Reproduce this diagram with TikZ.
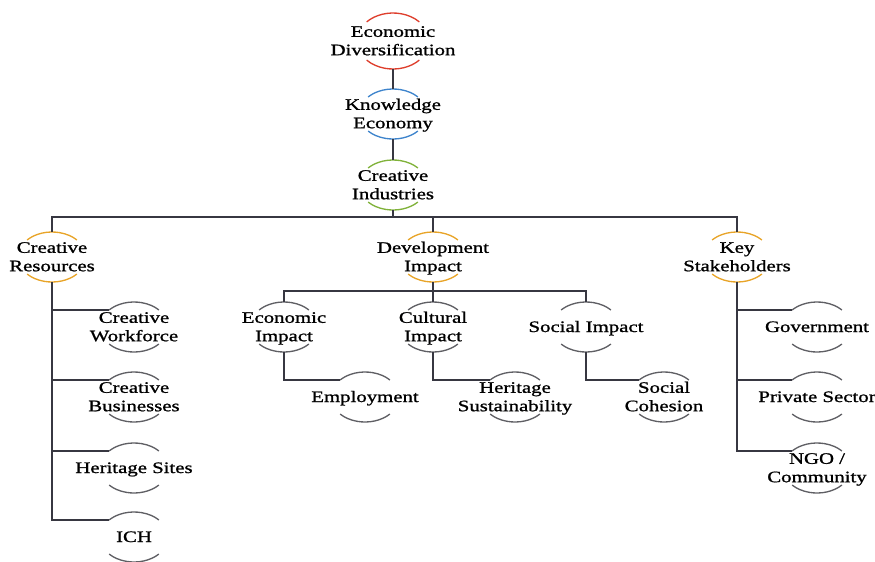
\documentclass[tikz,border=0pt]{standalone}
\usepackage{fontspec}
\setmainfont{Liberation Serif}[FakeStretch=1.3,FakeBold=1.1]
\usepackage{tikz}
\usetikzlibrary{shapes.geometric}

\definecolor{arcred}{RGB}{222,62,44}
\definecolor{arcblue}{RGB}{62,132,204}
\definecolor{arcgreen}{RGB}{128,178,58}
\definecolor{arcorange}{RGB}{232,164,40}
\definecolor{arcgray}{RGB}{95,95,100}
\definecolor{linkgray}{RGB}{55,55,65}

\tikzset{
  ring/.style={ellipse, inner sep=0pt, minimum width=51pt, minimum height=37.5pt,
    font=\fontsize{12}{13.8}\selectfont},
  bigring/.style={ring, minimum width=54pt, minimum height=42pt},
  link/.style={draw=linkgray, line width=1pt}
}
% text set in a box of no size, so that the ring keeps its size
\newcommand{\ringtext}[1]{\raisebox{-4pt}[0pt][0pt]{\makebox[0pt]{\begin{tabular}{@{}c@{}}#1\end{tabular}}}}
% top and bottom arcs of a ring
\newcommand{\ringarcs}[4]{%
  \draw [#2, line width=1pt] (#1.center) ++(223:#3 and #4) arc [start angle=223, end angle=317, x radius=#3, y radius=#4];
  \draw [#2, line width=1pt] (#1.center) ++(43:#3 and #4) arc [start angle=43, end angle=137, x radius=#3, y radius=#4];
}

\begin{document}
\begin{tikzpicture}[x=0.75pt,y=0.75pt,yscale=-1,xscale=1]
\useasboundingbox (0,0) rectangle (875,561);

% Text Node
\node [bigring] (ecodiv) at (393,41) {\ringtext{Economic\\Diversification}};
% Text Node
\node [ring] (knowecon) at (393,114) {\ringtext{Knowledge\\Economy}};
% Text Node
\node [ring] (creaind) at (393,185) {\ringtext{Creative\\Industries}};
% Text Node
\node [ring] (creares) at (52,257) {\ringtext{Creative\\Resources}};
% Text Node
\node [ring] (devimp) at (433,257) {\ringtext{Development\\Impact}};
% Text Node
\node [ring] (keystake) at (737,257) {\ringtext{Key\\Stakeholders}};
% Text Node
\node [ring] (ecoimp) at (284,327) {\ringtext{Economic\\Impact}};
% Text Node
\node [ring] (culimp) at (433,327) {\ringtext{Cultural\\Impact}};
% Text Node
\node [ring] (socimp) at (586,327) {\ringtext{Social Impact}};
% Text Node
\node [ring] (employ) at (365,397) {\ringtext{Employment}};
% Text Node
\node [ring] (herisus) at (515,397) {\ringtext{Heritage\\Sustainability}};
% Text Node
\node [ring] (soccoh) at (664,397) {\ringtext{Social\\Cohesion}};
% Text Node
\node [ring] (creawork) at (134,327) {\ringtext{Creative\\Workforce}};
% Text Node
\node [ring] (creabus) at (134,397) {\ringtext{Creative\\Businesses}};
% Text Node
\node [ring] (herisite) at (134,468) {\ringtext{Heritage Sites}};
% Text Node
\node [ring] (ich) at (134,537) {\ringtext{ICH}};
% Text Node
\node [ring] (gov) at (817,327) {\ringtext{Government}};
% Text Node
\node [ring] (privsec) at (817,397) {\ringtext{Private Sector}};
% Text Node
\node [ring] (ngo) at (817,468) {\ringtext{NGO /\\Community}};

%Shape: Arcs
\ringarcs{ecodiv}{arcred}{36}{28}
\ringarcs{knowecon}{arcblue}{34}{25}
\ringarcs{creaind}{arcgreen}{34}{25}
\foreach \n in {creares,devimp,keystake}
  {\ringarcs{\n}{arcorange}{34}{25}}
\foreach \n in {ecoimp,culimp,socimp,employ,herisus,soccoh,creawork,creabus,herisite,ich,gov,privsec,ngo}
  {\ringarcs{\n}{arcgray}{34}{25}}

%Straight Lines
\coordinate (topbus) at (393,217);
\coordinate (devbus) at (433,291);
\draw [link] (ecodiv) -- (knowecon);
\draw [link] (knowecon) -- (creaind);
\draw [link] (creaind) -- (topbus);
\draw [link] (creares.north) |- (topbus) -| (keystake.north);
\draw [link] (topbus -| devimp) -- (devimp);
\draw [link] (devimp) -- (culimp);
\draw [link] (ecoimp.north) |- (devbus) -| (socimp.north);
\draw [link] (ecoimp.south) |- (employ.146);
\draw [link] (culimp.south) |- (herisus.146);
\draw [link] (socimp.south) |- (soccoh.146);
\foreach \n in {creawork,creabus,herisite,ich}
  \draw [link] (creares.south) |- (\n.146);
\foreach \n in {gov,privsec,ngo}
  \draw [link] (keystake.south) |- (\n.146);

\end{tikzpicture}
\end{document}
